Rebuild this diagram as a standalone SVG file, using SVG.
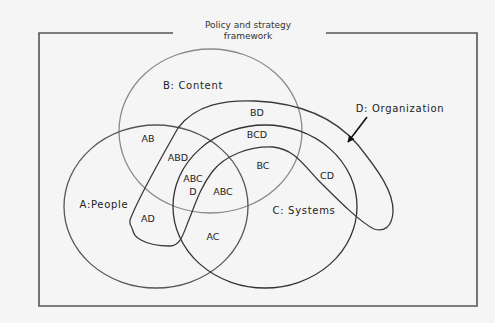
<svg xmlns="http://www.w3.org/2000/svg" width="495" height="323" viewBox="0 0 495 323">
  <style>
    .set { fill: none; stroke-width: 1.3; }
    .lbl { font-family: "DejaVu Sans", "Liberation Sans", sans-serif; font-size: 9.5px; fill: #222; text-anchor: middle; }
    .name { font-family: "DejaVu Sans", "Liberation Sans", sans-serif; font-size: 10px; letter-spacing: 0.7px; fill: #222; text-anchor: middle; }
    .title { font-family: "DejaVu Sans", "Liberation Sans", sans-serif; font-size: 9px; fill: #333; text-anchor: middle; }
    .frame { fill: none; stroke: #555; stroke-width: 1.6; }
  </style>
  <defs>
    <marker id="arrowHead" viewBox="0 0 10 10" refX="9" refY="5" markerWidth="7" markerHeight="7" orient="auto" markerUnits="userSpaceOnUse">
      <path d="M0,0 L10,5 L0,10 z" fill="#111"/>
    </marker>
  </defs>
  <rect width="495" height="323" fill="#f5f5f5"/>

  <!-- policy and strategy frame -->
  <g id="frame">
    <path class="frame" d="M173,33 L39,33 L39,306 L477,306 L477,33 L326,33"/>
    <text class="title" x="248" y="28">Policy and strategy</text>
    <text class="title" x="248" y="39">framework</text>
  </g>

  <!-- B: Content -->
  <g id="setB">
    <ellipse class="set" cx="210.5" cy="131" rx="91.5" ry="82" stroke="#8a8a8a"/>
    <text class="name" x="193" y="89">B: Content</text>
  </g>

  <!-- A: People -->
  <g id="setA">
    <ellipse class="set" cx="156" cy="206.5" rx="92" ry="81.5" stroke="#555"/>
    <text class="name" x="104" y="208">A:People</text>
  </g>

  <!-- C: Systems -->
  <g id="setC">
    <ellipse class="set" cx="265" cy="206.5" rx="92" ry="81.5" stroke="#333"/>
    <text class="name" x="304" y="214">C: Systems</text>
  </g>

  <!-- D: Organization -->
  <g id="setD">
    <path class="set" stroke="#3a3a3a" stroke-width="1.4" d="M130,220 C138,198 160,160 178,128 C196,104 225,100 255,101 C300,103 335,118 358,145 C378,170 394,192 393,212 C392,228 383,232 374,229 C360,222 340,202 318,180 C300,160 292,149 273,147 C250,146 225,155 212,172 C200,188 195,205 188,222 C183,235 180,246 170,246 C160,246 148,244 141,240 C132,236 134,230 130,224 Z"/>
    <text class="name" x="400" y="112">D: Organization</text>
  </g>

  <!-- region labels -->
  <g id="regions">
    <text class="lbl" x="257" y="116">BD</text>
    <text class="lbl" x="257" y="138">BCD</text>
    <text class="lbl" x="263" y="169">BC</text>
    <text class="lbl" x="327" y="179">CD</text>
    <text class="lbl" x="148" y="142">AB</text>
    <text class="lbl" x="178" y="161">ABD</text>
    <text class="lbl" x="193" y="182">ABC</text>
    <text class="lbl" x="193" y="195">D</text>
    <text class="lbl" x="223" y="195">ABC</text>
    <text class="lbl" x="148" y="222">AD</text>
    <text class="lbl" x="213" y="240">AC</text>
  </g>

  <!-- connectors -->
  <g id="connectors">
    <line x1="367" y1="117" x2="348" y2="142" stroke="#111" stroke-width="1.6" marker-end="url(#arrowHead)"/>
  </g>
</svg>
